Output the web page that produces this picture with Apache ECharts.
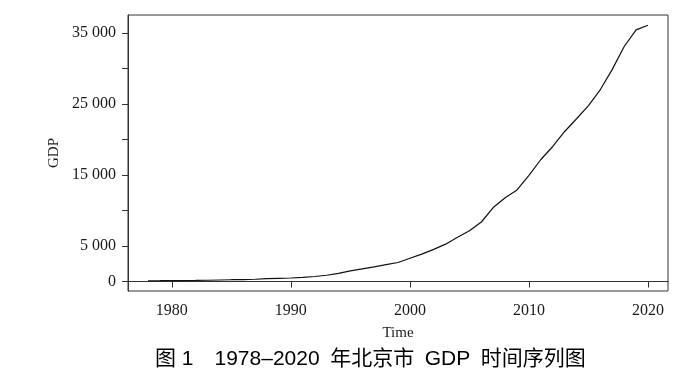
<!DOCTYPE html>
<html>
<head>
<meta charset="utf-8">
<script src="https://cdn.jsdelivr.net/npm/echarts@6/dist/echarts.min.js"></script>
<style>html,body{margin:0;padding:0;background:#fff}#c{width:700px;height:388px}</style>
</head>
<body>
<div id="c"></div>
<script>
const years = [1978,1979,1980,1981,1982,1983,1984,1985,1986,1987,1988,1989,1990,1991,1992,1993,1994,1995,1996,1997,1998,1999,2000,2001,2002,2003,2004,2005,2006,2007,2008,2009,2010,2011,2012,2013,2014,2015,2016,2017,2018,2019,2020];
const gdp = [108.8,120.1,139.1,139.2,154.9,183.1,216.6,257.1,284.9,326.8,410.2,456.0,500.8,598.9,709.1,886.2,1145.3,1507.7,1789.2,2077.1,2377.2,2678.8,3277.8,3861.5,4525.7,5267.2,6252.5,7149.8,8387.0,10425.5,11813.1,12900.9,14964.0,17188.8,19024.7,21134.6,22926.0,24779.1,27041.2,29883.0,33106.0,35445.1,36102.6];
const xTicks = [1980,1990,2000,2010,2020];
const yTicks = [0,5000,10000,15000,20000,25000,30000,35000];
const yLabels = [0,5000,15000,25000,35000];
const xTitle = 'Time';
const yTitle = 'GDP';
const caption = '图 1\u30001978–2020\u2002年北京市\u2002GDP\u2002时间序列图';

const xMin = 1978 - 0.04*(2020-1978), xMax = 2020 + 0.04*(2020-1978);
const gMin = Math.min(...gdp), gMax = Math.max(...gdp);
const yMin = gMin - 0.04*(gMax-gMin), yMax = gMax + 0.04*(gMax-gMin);
const fmt = v => { const s = String(Math.round(v)); return s.length > 3 ? s.slice(0,-3) + ' ' + s.slice(-3) : s; };
const serif = 'Liberation Serif';

const chart = echarts.init(document.getElementById('c'), null, {renderer:'canvas'});
chart.setOption({
  animation:false,
  backgroundColor:'#fff',
  grid:{left:128,right:32,top:15,bottom:97,show:true,borderColor:'#333',borderWidth:1,backgroundColor:'transparent'},
  xAxis:{type:'value',min:xMin,max:xMax,
    axisLine:{show:true,lineStyle:{color:'#333',width:1}},
    axisTick:{show:true,length:6,customValues:xTicks,lineStyle:{color:'#333'}},
    axisLabel:{customValues:xTicks,margin:12,color:'#1a1a1a',fontFamily:serif,fontSize:16,formatter:v=>String(v)},
    splitLine:{show:false},
    name:xTitle,nameLocation:'middle',nameGap:35,nameTextStyle:{color:'#1a1a1a',fontFamily:serif,fontSize:15}},
  yAxis:{type:'value',min:yMin,max:yMax,
    axisLine:{show:true,lineStyle:{color:'#333',width:1}},
    axisTick:{show:true,length:6,customValues:yTicks,lineStyle:{color:'#333'}},
    axisLabel:{customValues:yLabels,margin:12,color:'#1a1a1a',fontFamily:serif,fontSize:16,formatter:fmt},
    splitLine:{show:false},
    name:yTitle,nameLocation:'middle',nameGap:61,nameRotate:90,nameTextStyle:{color:'#1a1a1a',fontFamily:serif,fontSize:15}},
  series:[{type:'line',data:years.map((y,i)=>[y,gdp[i]]),showSymbol:false,symbol:'none',
    lineStyle:{color:'#111',width:1.2},z:3}],
  graphic:[{type:'text',left:155,top:349,style:{text:caption,font:'21px "Liberation Sans","Noto Sans CJK SC"',fill:'#000'}}]
});
</script>
</body>
</html>
